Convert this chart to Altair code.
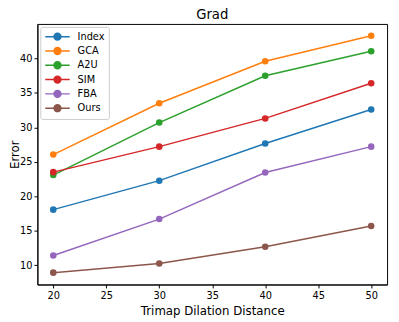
import altair as alt
import pandas as pd

distances = [20, 30, 40, 50]
methods = ["Index", "GCA", "A2U", "SIM", "FBA", "Ours"]
index_err = [18.05, 22.26, 27.66, 32.6]
gca_err = [26.05, 33.5, 39.6, 43.3]
a2u_err = [23.07, 30.7, 37.5, 41.06]
sim_err = [23.5, 27.2, 31.3, 36.4]
fba_err = [11.4, 16.68, 23.45, 27.2]
ours_err = [8.9, 10.24, 12.65, 15.68]
colors = ["#1f77b4", "#ff7f0e", "#2ca02c", "#d62728", "#9467bd", "#8c564b"]
x_ticks = [20, 25, 30, 35, 40, 45, 50]
y_ticks = [10, 15, 20, 25, 30, 35, 40]

series = [index_err, gca_err, a2u_err, sim_err, fba_err, ours_err]
rows = []
for m, vals in zip(methods, series):
    for d, v in zip(distances, vals):
        rows.append({"method": m, "distance": d, "error": v})
df = pd.DataFrame(rows)

FONT = "DejaVu Sans"
# line segment with a dot; path units scale by sqrt(symbolSize)/2
sym_path = "M-2.5,0L2.5,0M-0.7,0A0.7,0.7,0,1,1,0.7,0A0.7,0.7,0,1,1,-0.7,0Z"

x = alt.X("distance:Q", title="Trimap Dilation Distance",
          scale=alt.Scale(domain=[18.5, 51.5], nice=False, zero=False),
          axis=alt.Axis(values=x_ticks, grid=False, titlePadding=5))
y = alt.Y("error:Q", title="Error",
          scale=alt.Scale(domain=[7.18, 45.02], nice=False, zero=False),
          axis=alt.Axis(values=y_ticks, grid=False, titlePadding=1,
                        labelPadding=2, titleBaseline="alphabetic"))
color = alt.Color("method:N", sort=methods,
                  scale=alt.Scale(domain=methods, range=colors),
                  legend=alt.Legend(title=None, orient="top-left", offset=3,
                                    symbolType=sym_path, symbolSize=100,
                                    symbolOffset=7.5,
                                    symbolStrokeWidth=1.5, labelFontSize=10,
                                    labelOffset=14.5, padding=4, rowPadding=0.6,
                                    fillColor="rgba(255,255,255,0.8)",
                                    strokeColor="#cccccc", cornerRadius=2,
                                    labelColor="black", labelFont=FONT))

lines = alt.Chart(df).mark_line(strokeWidth=1.5).encode(x=x, y=y, color=color)
points = alt.Chart(df).mark_circle(size=45, opacity=1).encode(x=x, y=y, color=color)

chart = alt.layer(lines, points).properties(
    width=357, height=266,
    title=alt.TitleParams("Grad", fontSize=13.5, font=FONT, fontWeight="normal",
                          color="black", offset=2.5, anchor="middle"),
    padding={"left": 30, "top": 13, "right": 4, "bottom": 35},
    autosize=alt.AutoSizeParams(type="none"),
).configure_view(stroke="black", strokeWidth=1).configure_axis(
    domainColor="black", domainWidth=1, tickColor="black", tickWidth=1,
    tickSize=3.5, labelFontSize=10, labelColor="black", labelFont=FONT,
    titleFontSize=12, titleFontWeight="normal", titleColor="black",
    titleFont=FONT, labelPadding=3,
)

chart.save("out.html", embed_options={"renderer": "svg", "actions": False})
